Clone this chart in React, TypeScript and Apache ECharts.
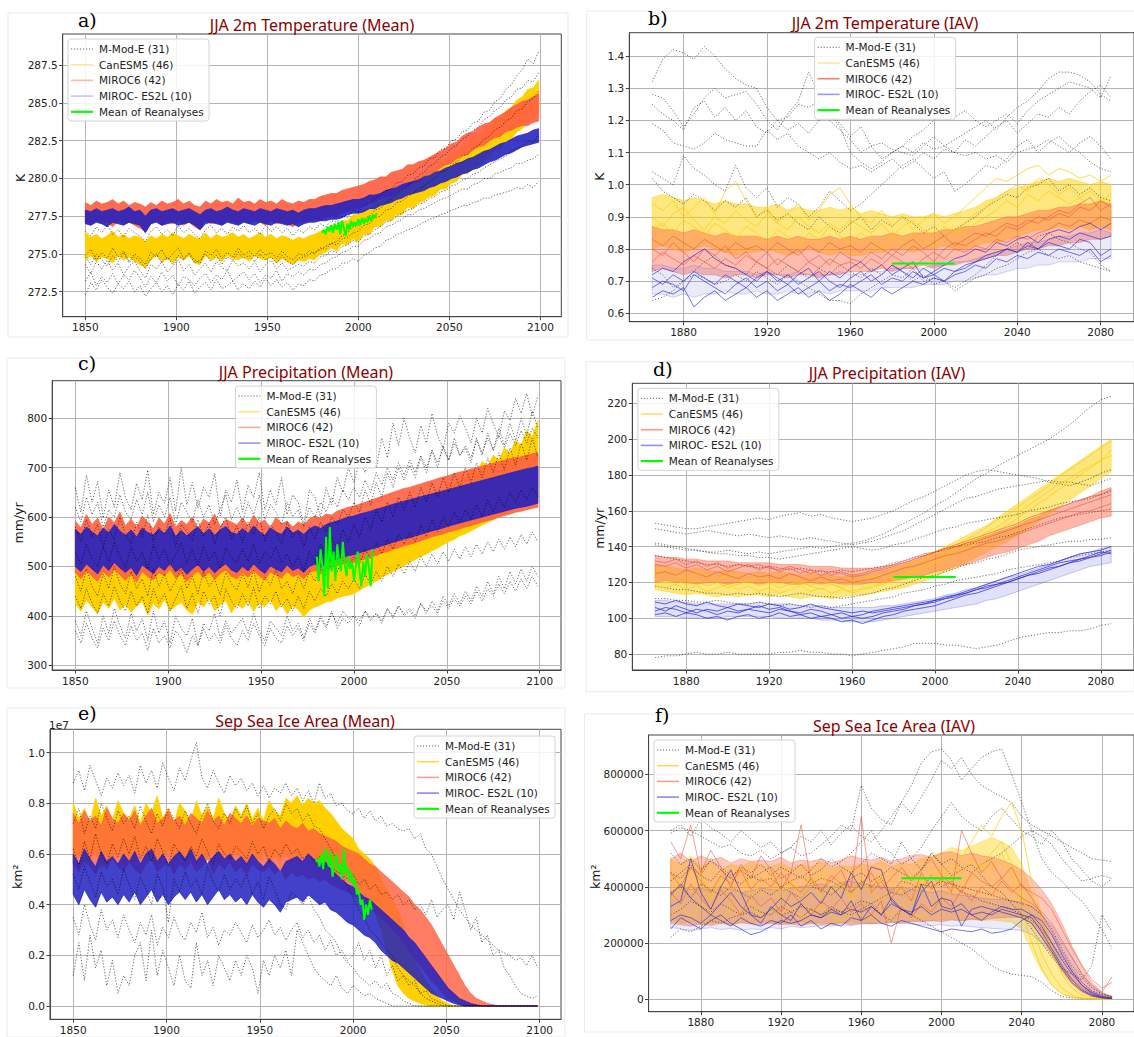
import React, { useEffect, useRef } from 'react';
import * as echarts from 'echarts';

// ---------- names ----------
const MME = 'M-Mod-E (31)';
const CAN = 'CanESM5 (46)';
const MIR = 'MIROC6 (42)';
const ES = 'MIROC- ES2L (10)';
const REAN = 'Mean of Reanalyses';
const legendNames = [MME, CAN, MIR, ES, REAN];

const titles = ['JJA 2m Temperature (Mean)', 'JJA 2m Temperature (IAV)', 'JJA Precipitation (Mean)', 'JJA Precipitation (IAV)', 'Sep Sea Ice Area (Mean)', 'Sep Sea Ice Area (IAV)'];
const letters = ['a)', 'b)', 'c)', 'd)', 'e)', 'f)'];
const yNames = ['K', 'K', 'mm/yr', 'mm/yr', 'km²', 'km²'];

// ---------- ticks ----------
const meanXTicks = [1850, 1900, 1950, 2000, 2050, 2100];
const iavXTicks = [1880, 1920, 1960, 2000, 2040, 2080];
const aYTicks = [272.5, 275, 277.5, 280, 282.5, 285, 287.5];
const bYTicks = [0.6, 0.7, 0.8, 0.9, 1.0, 1.1, 1.2, 1.3, 1.4];
const cYTicks = [300, 400, 500, 600, 700, 800];
const dYTicks = [80, 100, 120, 140, 160, 180, 200, 220];
const eYTicks = [0, 0.2, 0.4, 0.6, 0.8, 1.0];
const fYTicks = [0, 200, 400, 600, 800]; // thousand km²

// ---------- x values ----------
const range = (a: number, b: number, s: number) => { const r: number[] = []; for (let v = a; v <= b; v += s) r.push(v); return r; };
const meanYears = range(1850, 2099, 3); // 84
const iavYears = range(1865, 2085, 5); // 45
const reanYears = range(1980, 2010, 1); // 31
const iavReanYears = [1980, 2010];

// ---------- a) JJA 2m temperature mean (K) ----------
const aCanLo = [274.6,274.9,274.5,274.8,274.7,274.4,274.9,274.6,274.8,274.5,274.3,274.1,274.6,274.9,274.5,274.7,274.4,274.8,274.6,274.9,274.4,274.3,274.9,274.6,274.8,274.5,274.9,274.7,274.6,274.8,274.5,274.9,274.7,274.6,274.8,274.4,274.7,274.5,274.3,274.6,274.5,274.7,274.6,275.0,275.1,275.4,275.2,275.7,275.6,276.0,275.8,276.3,276.3,276.8,276.8,277.2,277.2,277.6,277.6,278.1,278.0,278.4,278.5,278.8,278.9,279.3,279.3,279.7,279.8,280.3,280.3,280.7,280.9,281.2,281.4,281.9,281.9,282.5,282.6,283.1,283.3,283.7,283.9,284.3];
const aCanHi = [276.4,276.1,276.3,276.0,276.2,276.5,276.1,276.3,276.0,276.2,276.1,275.8,276.2,276.0,276.3,276.1,276.4,276.2,276.0,276.3,276.1,276.0,276.4,276.0,276.3,276.1,276.2,276.4,276.1,276.3,276.0,276.2,276.4,276.1,276.3,276.0,276.2,276.1,275.9,276.1,276.0,276.2,276.3,276.5,276.6,276.9,276.9,277.2,277.2,277.6,277.6,278.0,278.0,278.4,278.4,278.8,278.8,279.2,279.3,279.7,279.7,280.1,280.2,280.5,280.6,281.1,281.1,281.5,281.6,282.1,282.2,282.7,282.8,283.3,283.4,284.0,284.0,284.5,284.7,285.2,285.4,285.9,286.0,286.5];
const aMirLo = [277.1,276.9,277.2,277.0,277.1,276.8,277.2,277.0,277.1,276.9,276.7,276.5,277.0,277.2,276.9,277.1,277.0,277.2,276.9,277.1,276.8,276.6,277.2,277.0,277.1,276.9,277.2,277.1,277.0,277.2,277.0,277.2,277.1,276.9,277.2,277.0,277.1,277.0,276.8,277.1,277.1,277.2,277.3,277.2,277.4,277.5,277.5,277.7,277.8,278.0,278.0,278.2,278.4,278.4,278.6,278.8,278.8,279.1,279.3,279.4,279.7,279.8,280.1,280.3,280.4,280.7,280.9,281.0,281.3,281.5,281.6,281.9,282.1,282.2,282.5,282.7,282.8,283.1,283.2,283.4,283.5,283.5,283.7,283.8];
const aMirHi = [278.4,278.2,278.5,278.3,278.4,278.6,278.3,278.5,278.2,278.4,278.3,278.1,278.4,278.2,278.5,278.3,278.4,278.6,278.3,278.5,278.2,278.1,278.5,278.3,278.6,278.4,278.5,278.3,278.7,278.4,278.5,278.3,278.6,278.4,278.5,278.3,278.6,278.4,278.3,278.5,278.4,278.6,278.6,278.8,278.9,279.0,279.0,279.2,279.3,279.4,279.5,279.6,279.8,279.9,280.1,280.1,280.4,280.5,280.6,280.9,280.9,281.1,281.2,281.4,281.6,281.8,282.0,282.3,282.4,282.8,283.0,283.1,283.4,283.6,283.7,284.0,284.2,284.4,284.7,284.9,285.1,285.2,285.4,285.6];
const aEsLo = [277.0,276.9,277.1,277.0,276.8,277.1,277.0,276.9,277.1,277.0,276.9,276.4,277.0,277.1,276.9,277.0,277.1,276.9,277.0,277.1,276.9,276.6,277.0,277.1,277.0,276.9,277.1,277.0,276.9,277.1,277.0,276.9,277.1,277.0,276.9,277.1,277.0,276.9,277.0,276.8,277.0,277.1,277.1,277.2,277.2,277.3,277.3,277.4,277.6,277.7,277.7,277.8,278.0,278.0,278.2,278.3,278.4,278.6,278.7,278.9,279.0,279.1,279.2,279.4,279.5,279.7,279.8,280.0,280.1,280.3,280.4,280.6,280.7,280.9,281.1,281.2,281.4,281.6,281.7,281.9,282.1,282.2,282.3,282.4];
const aEsHi = [277.9,277.8,278.0,277.8,277.9,278.0,277.8,277.9,278.1,277.8,277.9,277.5,277.9,278.0,277.8,277.9,278.0,277.8,277.9,278.0,277.8,277.6,277.9,278.0,277.8,277.9,278.1,277.9,277.8,278.0,277.9,277.8,278.0,277.9,277.8,278.0,277.9,277.8,277.9,277.7,277.9,278.0,278.0,278.1,278.2,278.2,278.3,278.4,278.5,278.6,278.6,278.7,278.9,278.9,279.0,279.2,279.3,279.4,279.6,279.7,279.8,279.9,280.1,280.2,280.4,280.5,280.7,280.8,281.0,281.1,281.3,281.4,281.6,281.8,281.9,282.1,282.3,282.4,282.6,282.8,282.9,283.0,283.2,283.3];
const aK1 = [276.5,276.2,276.8,276.4,276.9,276.3,276.6,276.1,276.7,276.4,276.2,275.8,276.5,276.8,276.3,276.6,276.2,276.9,276.4,276.7,276.3,276.0,276.6,276.9,276.4,276.7,276.3,276.8,276.5,276.9,276.4,276.7,276.3,276.9,276.5,276.8,276.4,276.7,276.2,276.6,276.4,276.8,276.6,277.0,276.8,277.2,277.1,277.5,277.4,277.9,277.8,278.2,278.3,278.7,278.9,279.2,279.3,279.7,279.8,280.2,280.3,280.7,280.8,281.3,281.4,281.9,282.0,282.5,282.6,283.1,283.2,283.7,283.8,284.4,284.5,285.1,285.3,285.9,286.2,286.8,287.2,287.9,287.6,288.4];
const aK2 = [274.9,275.3,274.6,275.1,274.7,275.4,274.8,275.2,274.5,275.0,274.7,274.3,275.1,274.8,275.3,274.6,275.0,275.4,274.7,275.1,274.6,274.4,275.2,274.9,275.3,274.7,275.1,274.8,275.4,274.9,275.2,274.8,275.3,274.9,275.1,274.7,275.2,274.8,274.6,275.0,274.9,275.2,275.0,275.4,275.3,275.7,275.6,276.0,276.1,276.4,276.5,276.9,277.0,277.4,277.5,277.9,278.0,278.4,278.5,278.8,279.0,279.3,279.5,279.8,280.0,280.4,280.5,280.9,281.1,281.5,281.6,282.0,282.2,282.6,282.8,283.2,283.4,283.8,284.0,284.5,284.6,285.1,285.3,285.8];
const aK3 = [274.3,273.7,274.5,274.0,274.6,273.9,274.4,273.6,274.2,274.5,273.9,273.4,274.3,274.0,274.5,273.8,274.2,274.6,273.9,274.3,273.6,274.0,274.4,273.8,274.5,274.1,273.9,274.6,274.2,274.4,274.0,274.5,273.8,274.3,274.6,274.0,274.4,273.9,274.1,274.3,274.2,274.5,274.4,274.8,274.9,275.2,275.1,275.5,275.6,275.9,275.8,276.2,276.3,276.6,276.8,277.1,277.2,277.5,277.7,277.9,278.0,278.3,278.4,278.7,278.8,279.1,279.2,279.5,279.6,279.9,280.0,280.3,280.4,280.7,280.9,281.1,281.3,281.5,281.8,282.0,282.1,282.5,282.4,282.9];
const aK4 = [273.2,273.8,272.9,273.5,273.1,273.7,273.0,273.6,273.3,273.9,273.4,272.8,273.5,273.1,273.8,273.2,273.6,272.9,273.5,273.3,272.9,273.4,273.7,273.1,273.6,273.3,273.9,273.2,273.5,273.8,273.3,273.7,273.1,273.6,273.4,273.9,273.2,273.7,273.5,273.8,273.6,274.0,273.9,274.3,274.4,274.7,274.8,275.1,275.2,275.5,275.5,275.9,276.0,276.3,276.4,276.8,276.9,277.1,277.3,277.6,277.6,277.9,278.0,278.2,278.4,278.6,278.7,278.9,279.1,279.3,279.3,279.6,279.7,280.0,280.0,280.3,280.4,280.6,280.7,281.0,281.0,281.2,281.3,281.6];
const aK5 = [272.3,273.1,272.6,273.3,272.8,272.4,273.0,272.7,273.2,272.5,272.9,272.2,272.7,273.1,272.5,272.9,272.3,273.0,272.6,273.2,272.4,272.8,273.1,272.6,273.3,272.7,272.9,273.2,272.6,273.0,272.7,273.2,272.8,273.4,272.9,273.3,272.8,273.1,272.6,273.0,272.9,273.3,273.2,273.6,273.7,274.0,274.0,274.4,274.4,274.7,274.5,274.9,275.1,275.4,275.5,275.9,276.0,276.3,276.4,276.6,276.7,276.9,277.1,277.3,277.4,277.6,277.7,277.9,278.0,278.2,278.2,278.4,278.5,278.7,278.7,278.9,279.0,279.1,279.2,279.4,279.3,279.6,279.4,279.8];
const aK6 = [274.8,274.3,275.0,274.6,274.2,274.9,274.5,275.1,274.4,274.8,274.5,274.0,274.7,275.0,274.4,274.8,274.3,274.9,274.6,275.0,274.4,274.6,275.0,274.5,274.9,274.3,274.8,274.6,275.1,274.7,274.9,274.5,275.0,274.6,274.8,274.4,274.9,274.5,274.3,274.7,274.8,275.0,275.1,275.3,275.5,275.7,275.8,276.2,276.4,276.8,276.9,277.3,277.5,277.9,278.0,278.4,278.6,279.0,279.2,279.6,279.8,280.2,280.4,280.8,281.0,281.4,281.6,282.0,282.2,282.6,282.8,283.2,283.4,283.9,284.1,284.5,284.7,285.2,285.4,285.9,286.0,286.5,286.4,287.0];
const aRean = [276.4,276.6,276.3,276.8,276.5,276.9,276.4,277.0,276.6,277.1,276.3,277.2,276.7,276.2,277.0,276.6,277.2,276.8,277.1,276.9,277.3,276.9,277.4,277.0,277.3,277.1,277.5,277.2,277.6,277.4,277.7];

// ---------- b) JJA 2m temperature IAV (K) ----------
const bCanLo = [.8,.81,.8,.79,.8,.81,.8,.79,.78,.79,.79,.8,.79,.78,.79,.8,.79,.78,.79,.78,.78,.79,.79,.8,.8,.79,.8,.8,.81,.8,.8,.81,.82,.82,.83,.84,.85,.86,.86,.87,.86,.87,.86,.87,.86];
const bCanHi = [.96,.97,.96,.95,.96,.95,.94,.95,.94,.94,.93,.93,.94,.92,.93,.92,.92,.93,.92,.93,.91,.92,.91,.9,.91,.9,.9,.91,.9,.91,.92,.93,.95,.96,.98,.99,1.0,1.01,1.02,1.01,1.02,1.01,1.0,1.01,1.0];
const bMirLo = [.73,.74,.73,.72,.73,.72,.72,.71,.72,.72,.71,.72,.72,.71,.72,.72,.71,.72,.72,.73,.73,.73,.74,.73,.74,.74,.75,.74,.75,.75,.76,.76,.77,.78,.78,.79,.8,.8,.81,.81,.82,.82,.83,.83,.84];
const bMirHi = [.87,.86,.86,.85,.86,.85,.84,.85,.84,.84,.84,.83,.84,.83,.84,.83,.83,.84,.83,.84,.83,.84,.84,.85,.84,.85,.85,.85,.86,.86,.87,.87,.88,.89,.9,.9,.91,.92,.92,.93,.93,.94,.94,.95,.94];
const bEsLo = [.66,.66,.65,.66,.65,.66,.66,.67,.66,.66,.67,.66,.66,.67,.66,.66,.67,.66,.67,.67,.67,.67,.68,.68,.68,.68,.69,.69,.69,.7,.7,.71,.72,.72,.73,.74,.74,.75,.75,.76,.76,.76,.77,.77,.77];
const bEsHi = [.75,.75,.74,.74,.75,.74,.74,.73,.73,.73,.72,.73,.72,.72,.73,.72,.72,.72,.73,.72,.72,.73,.73,.74,.74,.74,.74,.75,.75,.76,.76,.77,.78,.79,.8,.81,.82,.82,.83,.84,.84,.85,.85,.86,.85];
const bCan1 = [.94,.92,.95,.9,.93,.96,.91,.98,1.01,.95,.9,.93,.88,.91,.94,.89,.92,.97,.99,.94,.9,.88,.92,.87,.9,.86,.89,.91,.88,.9,.93,.96,.99,1.02,1.01,1.03,1.05,1.06,1.03,1.05,1.04,1.02,1.03,1.01,1.03];
const bCan2 = [.86,.88,.85,.89,.87,.84,.88,.86,.83,.87,.85,.82,.86,.84,.81,.85,.83,.87,.84,.82,.85,.83,.8,.84,.82,.85,.83,.81,.84,.86,.85,.88,.9,.92,.95,.93,.97,.95,.98,.96,.94,.96,.93,.95,.94];
const bCan3 = [.9,.87,.91,.93,.89,.86,.9,.88,.92,.89,.87,.91,.88,.86,.9,.87,.85,.88,.86,.89,.87,.85,.88,.84,.87,.89,.86,.84,.87,.85,.88,.91,.93,.96,.98,1.0,.98,1.02,1.0,.97,.99,.96,.98,.95,.97];
const bMir1 = [.8,.78,.82,.79,.76,.8,.78,.81,.77,.79,.76,.79,.75,.78,.8,.76,.78,.75,.79,.77,.76,.79,.77,.8,.78,.81,.79,.76,.8,.82,.81,.83,.85,.84,.87,.86,.88,.9,.89,.91,.9,.93,.92,.95,.93];
const bMir2 = [.76,.79,.77,.75,.78,.76,.74,.77,.75,.78,.76,.74,.77,.75,.73,.76,.74,.77,.75,.76,.74,.77,.75,.78,.76,.74,.77,.79,.77,.8,.79,.81,.8,.83,.82,.84,.83,.85,.86,.88,.87,.89,.88,.9,.89];
const bMir3 = [.83,.81,.84,.82,.8,.83,.81,.79,.82,.8,.81,.79,.82,.8,.78,.81,.79,.82,.8,.81,.79,.82,.8,.78,.81,.83,.8,.82,.84,.81,.83,.85,.84,.86,.88,.87,.89,.88,.9,.92,.91,.94,.96,.92,.94];
const bEs1 = [.72,.74,.73,.76,.78,.8,.77,.75,.74,.72,.7,.73,.71,.69,.72,.74,.7,.73,.71,.74,.76,.73,.75,.72,.74,.76,.71,.73,.75,.77,.78,.8,.79,.82,.81,.83,.84,.82,.85,.86,.85,.87,.88,.86,.88];
const bEs2 = [.68,.7,.69,.67,.72,.7,.68,.66,.69,.71,.68,.7,.67,.69,.66,.68,.7,.67,.69,.68,.7,.72,.69,.71,.7,.73,.71,.72,.74,.73,.75,.76,.78,.79,.8,.79,.81,.8,.82,.81,.8,.83,.82,.78,.8];
const bEs3 = [.65,.67,.66,.68,.62,.65,.67,.64,.66,.68,.65,.67,.64,.66,.68,.65,.67,.64,.66,.69,.67,.65,.68,.66,.68,.7,.69,.71,.7,.72,.73,.75,.74,.77,.76,.78,.77,.79,.78,.8,.79,.78,.8,.76,.78];
const bEs4 = [.71,.69,.72,.7,.73,.71,.69,.72,.7,.68,.71,.73,.7,.72,.69,.71,.73,.7,.68,.71,.73,.7,.72,.75,.73,.71,.74,.72,.7,.73,.74,.76,.77,.78,.8,.79,.82,.8,.83,.84,.83,.85,.84,.83,.84];
const bK1 = [1.32,1.39,1.42,1.41,1.39,1.43,1.4,1.36,1.33,1.31,1.3,1.24,1.2,1.21,1.25,1.24,1.26,1.2,1.17,1.14,1.1,1.12,1.08,1.1,1.12,1.1,1.13,1.11,1.12,1.14,1.16,1.18,1.2,1.17,1.21,1.24,1.26,1.29,1.33,1.35,1.35,1.34,1.32,1.28,1.26];
const bK2 = [1.28,1.27,1.23,1.18,1.22,1.27,1.3,1.27,1.28,1.29,1.25,1.2,1.17,1.22,1.26,1.35,1.28,1.22,1.18,1.1,1.07,1.05,1.07,1.1,1.12,1.15,1.17,1.2,1.22,1.21,1.23,1.2,1.18,1.2,1.22,1.19,1.23,1.26,1.28,1.3,1.32,1.31,1.3,1.27,1.34];
const bK3 = [1.25,1.22,1.2,1.17,1.24,1.26,1.21,1.24,1.2,1.23,1.18,1.16,1.2,1.17,1.19,1.16,1.2,1.23,1.19,1.15,1.18,1.12,1.13,1.11,1.1,1.09,1.12,1.15,1.12,1.1,1.14,1.12,1.15,1.18,1.2,1.16,1.19,1.22,1.21,1.24,1.22,1.26,1.29,1.31,1.27];
const bK4 = [1.19,1.17,1.13,1.12,1.11,1.13,1.16,1.14,1.13,1.12,1.12,1.17,1.14,1.16,1.12,1.1,1.08,1.1,1.07,1.05,1.06,1.04,1.06,1.08,1.05,1.07,1.1,1.08,1.11,1.1,1.09,1.1,1.08,1.09,1.07,1.1,1.11,1.12,1.14,1.12,1.1,1.13,1.15,1.12,1.08];
const bK5 = [1.04,1.02,1.0,1.09,1.05,1.03,1.0,.98,1.06,.99,.96,.99,.93,.96,.94,.9,.93,.98,.95,.92,.94,.97,1.0,1.03,1.06,1.08,1.05,1.02,1.04,.98,1.0,1.03,1.06,1.05,1.08,1.12,1.14,1.1,1.13,1.15,1.12,1.1,1.07,1.05,1.04];
const bK6 = [1.02,.98,.96,.94,.97,.95,.92,.95,.93,.96,.9,.92,.89,.91,.88,.86,.9,.87,.85,.88,.9,.86,.89,.87,.9,.88,.85,.87,.84,.86,.88,.9,.93,.95,.97,.96,.99,1.0,1.02,.98,1.0,.97,.99,.96,.95];
const bK7 = [.64,.65,.67,.7,.72,.71,.69,.7,.72,.7,.73,.71,.69,.72,.7,.68,.66,.64,.64,.63,.66,.68,.7,.72,.71,.74,.7,.71,.7,.67,.69,.71,.72,.74,.75,.77,.79,.8,.78,.77,.78,.76,.75,.74,.73];
const bK8 = [.74,.72,.68,.7,.73,.76,.78,.75,.74,.72,.76,.74,.72,.75,.73,.71,.74,.72,.75,.73,.71,.74,.72,.75,.73,.7,.72,.69,.7,.68,.7,.72,.75,.78,.8,.82,.8,.84,.85,.83,.82,.8,.79,.75,.73];
const bRean = [.755, .755];

// ---------- c) JJA precipitation mean (mm/yr) ----------
const cCanLo = [425,410,432,418,405,428,415,436,412,422,408,420,430,402,425,414,433,410,420,427,412,403,428,418,435,410,422,431,406,424,415,430,409,426,418,433,411,424,404,420,413,398,412,418,422,428,430,436,440,442,445,452,458,465,470,478,484,490,495,502,508,514,520,525,532,537,544,550,555,562,566,572,578,584,590,594,600,606,612,618,622,628,634,640];
const cCanHi = [512,498,525,505,517,495,520,508,530,502,515,500,522,510,496,518,505,527,499,512,507,521,498,516,503,525,511,497,519,508,520,504,515,498,523,509,517,501,512,506,510,515,520,531,528,540,545,550,552,556,560,572,566,583,578,596,590,608,603,620,615,634,628,648,640,660,652,672,664,685,678,698,690,712,704,725,716,740,730,755,745,775,762,795];
const cMirLo = [488,475,492,480,470,490,478,495,483,472,485,468,490,479,473,488,481,494,476,486,470,482,491,477,489,474,486,493,480,475,487,478,492,481,473,489,483,476,490,479,484,475,488,492,485,495,498,502,505,510,508,512,515,520,522,528,530,535,538,542,545,548,552,556,560,563,566,570,573,576,580,583,586,590,593,596,600,603,606,610,612,615,618,620];
const cMirHi = [592,578,605,585,598,575,600,588,610,582,596,580,602,590,576,598,586,607,579,593,585,600,578,596,588,606,581,595,590,584,598,583,604,588,594,578,600,586,592,580,590,585,596,602,598,606,604,612,616,620,622,626,630,634,638,642,646,650,654,658,660,664,667,671,674,678,681,684,688,691,694,697,700,703,706,709,712,715,718,720,722,725,728,730];
const cEsLo = [500,490,505,495,485,503,492,508,497,488,498,482,503,494,486,500,492,506,489,499,484,495,504,490,500,487,498,505,493,488,500,491,505,494,486,501,495,489,503,492,497,488,500,505,498,508,512,515,518,522,524,528,531,535,538,542,545,549,552,556,558,562,565,569,572,575,578,582,585,588,591,594,597,600,603,606,609,612,615,618,620,622,625,628];
const cEsHi = [575,565,580,570,562,578,568,585,572,563,574,560,578,569,564,576,566,582,561,573,562,572,580,566,576,563,574,581,569,565,577,567,582,571,563,578,570,565,580,568,573,565,576,582,577,585,589,592,596,600,602,606,609,612,616,619,622,626,629,632,635,638,641,644,647,650,653,656,659,662,665,668,671,674,677,680,683,686,689,692,695,698,700,703];
const cK1 = [660,610,685,630,672,598,655,620,690,640,615,668,635,695,605,650,628,680,612,700,625,670,618,660,640,688,602,655,630,675,610,665,640,690,615,655,625,680,605,645,630,585,655,640,600,660,625,680,650,700,670,715,690,740,700,760,720,790,745,800,760,730,785,750,810,765,740,790,770,805,780,750,800,770,820,790,760,815,795,840,810,850,805,845];
const cK2 = [580,550,595,560,585,540,575,555,600,565,545,590,560,605,550,580,565,598,540,585,570,552,595,560,588,545,578,600,555,582,548,590,565,600,552,585,570,545,590,560,575,540,580,555,590,570,600,585,615,600,630,610,655,625,670,640,690,660,700,675,705,680,720,690,735,700,745,715,760,725,740,710,760,725,770,735,780,745,790,755,800,765,815,780];
const cK3 = [480,450,495,460,440,485,455,500,465,445,490,455,475,440,495,460,485,450,470,498,455,480,445,490,460,475,442,488,465,452,485,458,492,448,478,462,495,455,470,445,480,455,490,470,495,480,505,490,515,500,520,505,535,515,548,525,555,535,565,545,570,550,585,560,595,570,600,580,610,590,615,595,625,600,635,610,640,620,650,630,655,635,660,640];
const cK4 = [390,360,410,375,345,400,365,415,380,355,405,370,395,350,410,365,390,345,400,375,360,395,340,385,370,405,355,390,365,380,395,365,405,370,350,390,375,360,400,370,385,355,395,370,400,380,410,375,395,385,400,380,410,390,405,385,415,395,420,400,410,395,425,405,430,410,440,420,445,425,450,430,460,440,470,445,480,455,490,465,495,470,500,480];
const cK5 = [370,345,385,355,335,375,350,390,360,340,380,350,365,330,375,345,360,335,370,355,325,360,340,375,350,365,345,380,355,340,370,350,385,360,340,375,355,345,380,360,375,350,385,365,395,375,405,385,410,395,400,390,410,395,405,390,415,400,420,405,415,400,425,410,420,405,430,415,435,420,440,425,450,430,455,440,465,445,470,450,475,455,480,460];
const cK6 = [530,505,545,515,500,540,510,550,520,498,540,510,528,495,545,515,535,500,525,548,505,535,500,542,512,530,495,538,518,508,536,510,545,505,530,515,540,508,525,500,520,490,530,510,545,520,560,535,575,550,585,560,600,575,615,590,630,600,640,615,650,620,660,630,670,640,680,650,690,660,700,670,710,680,720,690,730,695,740,705,750,715,760,720];
const cK7 = [440,415,455,425,405,445,420,460,430,410,450,420,440,405,455,425,445,410,435,460,415,445,405,450,425,440,400,455,430,415,445,420,458,415,440,425,450,418,435,410,440,415,450,430,455,440,465,445,470,455,475,455,485,465,490,470,500,480,505,485,510,490,520,500,525,505,530,510,535,515,540,520,545,525,550,530,555,535,560,540,565,545,570,550];
const cK8 = [620,590,640,605,630,580,615,600,645,610,595,635,605,650,590,625,600,640,585,630,610,590,635,600,625,585,618,645,595,620,590,630,605,645,595,625,610,585,630,600,615,580,620,600,630,610,640,620,655,635,660,640,675,650,690,665,700,675,710,685,715,690,725,700,735,710,740,715,750,725,745,720,755,730,760,735,765,740,770,745,775,750,780,760];
const cRean = [520,470,535,500,440,560,455,580,490,530,470,545,510,490,550,505,480,520,495,510,470,500,530,490,460,510,480,525,500,460,535];

// ---------- d) JJA precipitation IAV (mm/yr) ----------
const dCanLo = [116,115,114,113,114,113,112,113,112,113,113,112,113,112,111,112,112,111,112,113,113,114,115,116,117,119,121,123,126,128,131,134,137,140,143,146,150,154,158,162,166,170,174,178,182];
const dCanHi = [130,129,128,127,128,127,126,127,126,125,126,125,126,125,124,125,124,124,123,124,124,125,126,128,130,132,134,137,140,143,146,149,152,156,160,164,168,172,176,180,184,188,192,196,200];
const dMirLo = [120,121,120,120,119,120,120,119,120,120,119,120,120,119,119,120,119,120,119,119,119,120,120,121,122,123,124,126,127,129,130,132,134,136,137,139,141,143,146,148,150,152,154,156,157];
const dMirHi = [135,134,134,133,133,132,132,132,131,131,131,131,130,130,130,129,129,129,128,128,128,128,129,130,131,133,135,137,139,140,142,144,146,148,150,152,155,157,160,162,164,166,168,171,173];
const dEsLo = [101,101,101,100,100,100,100,101,101,101,101,101,100,100,100,100,99,99,99,98,98,98,99,100,101,102,103,104,105,106,107,108,110,111,113,115,117,119,121,123,125,127,129,130,131];
const dEsHi = [110,110,109,109,108,108,108,108,108,108,109,108,108,108,107,107,107,106,106,106,106,106,107,107,108,109,110,111,113,114,116,117,119,121,123,124,126,128,130,132,134,136,137,139,140];
const dCan1 = [125,127,124,122,125,123,121,124,122,120,123,121,119,122,120,118,121,119,117,120,121,123,124,127,129,131,133,136,138,141,144,147,151,155,158,162,166,170,174,179,183,187,191,195,199];
const dCan2 = [118,117,119,116,118,115,117,119,116,118,115,117,114,116,118,115,117,114,116,115,117,118,120,122,125,127,130,132,135,138,141,144,148,151,155,159,163,167,171,175,178,182,185,188,191];
const dCan3 = [122,120,121,119,121,118,120,117,119,121,118,120,117,119,121,118,116,119,117,114,116,117,119,121,124,126,128,131,134,136,139,142,145,149,152,156,160,164,168,172,176,180,184,188,194];
const dMir1 = [130,129,131,128,130,127,129,126,128,130,127,129,126,128,125,127,124,126,125,123,124,126,127,129,131,133,135,137,139,140,142,143,145,147,149,151,153,155,157,159,161,163,165,167,169];
const dMir2 = [125,126,124,127,125,123,126,124,122,125,123,124,122,125,123,121,123,121,122,120,121,122,124,126,128,129,131,133,135,136,138,140,142,143,145,147,149,151,153,155,157,159,160,162,164];
const dMir3 = [132,131,133,130,132,129,131,128,130,129,130,128,127,129,127,125,127,124,126,124,125,127,128,130,132,134,136,137,139,141,143,145,147,149,151,153,156,158,160,162,164,166,168,169,172];
const dEs1 = [106,104,107,105,103,105,104,106,104,105,107,105,106,104,103,105,104,102,103,101,102,104,105,106,107,108,109,110,112,113,115,117,119,121,123,125,127,129,130,132,134,136,137,138,140];
const dEs2 = [102,103,101,103,102,100,101,99,101,102,100,101,103,101,102,100,101,100,98,99,97,99,101,102,104,105,106,107,109,111,113,114,116,118,120,122,124,125,127,129,131,132,134,135,137];
const dEs3 = [109,108,110,108,107,109,107,106,108,107,106,108,107,105,106,108,106,105,104,103,104,103,104,105,106,107,108,110,111,112,114,116,117,119,120,122,124,126,128,129,131,133,134,136,138];
const dEs4 = [104,106,105,103,105,104,102,104,103,105,104,103,105,104,102,103,101,102,100,101,100,101,103,104,105,107,108,109,111,113,114,116,118,119,121,123,125,127,129,131,132,133,135,137,136];
const dK1 = [142,141,140,139,138,137,137,138,137,136,137,136,137,138,139,140,139,140,141,142,143,145,147,150,153,156,159,163,166,170,174,178,181,185,188,191,194,197,200,204,208,213,218,222,224];
const dK2 = [153,152,151,150,150,151,152,153,154,155,156,155,157,158,159,157,158,156,155,154,155,156,158,160,163,166,168,171,174,177,180,182,183,182,181,180,179,178,176,175,174,176,178,181,183];
const dK3 = [150,149,148,147,148,149,148,147,146,147,146,145,146,145,144,145,144,143,142,141,142,143,145,147,149,152,155,158,161,164,167,168,170,172,173,174,175,176,177,176,176,175,174,176,178];
const dK4 = [141,140,139,138,138,137,136,136,135,135,134,134,133,134,135,136,137,138,139,140,139,138,139,141,142,144,146,148,150,151,153,154,155,156,157,158,160,161,162,164,165,166,167,169,171];
const dK5 = [135,134,133,132,131,130,130,129,130,129,128,129,128,127,128,127,126,126,127,126,127,128,129,131,132,134,135,137,138,140,141,142,143,145,146,148,150,152,154,156,157,158,159,160,161];
const dK6 = [118,117,116,116,115,114,114,113,114,113,114,113,112,113,114,113,112,112,111,112,113,114,116,117,119,121,123,124,126,128,130,131,133,134,136,138,139,140,141,142,143,143,144,144,145];
const dK7 = [111,111,110,110,109,109,110,109,108,108,109,108,107,108,107,106,107,106,107,108,109,110,111,112,114,115,116,118,119,121,122,123,124,125,127,128,129,130,131,132,134,135,136,137,138];
const dK8 = [78,79,79,80,81,80,80,81,80,80,80,80,81,81,82,81,81,80,80,79,80,81,82,83,84,86,86,86,85,85,84,83,84,85,87,89,90,91,92,92,93,93,94,96,97];
const dRean = [123, 123];

// ---------- e) Sep sea ice area mean (1e7 km²) ----------
const eCanLo = [.56,.6,.55,.58,.61,.54,.59,.57,.62,.56,.58,.55,.61,.57,.6,.54,.59,.62,.56,.6,.57,.61,.55,.59,.58,.62,.56,.6,.57,.61,.58,.55,.6,.57,.61,.56,.59,.58,.6,.57,.59,.58,.6,.57,.58,.55,.56,.52,.53,.5,.48,.46,.43,.4,.36,.3,.22,.14,.08,.05,.03,.02,.01,.005,0,0,0,0,0,0,0,0,0,0,0,0,0,0,0,0,0,0,0,0];
const eCanHi = [.8,.74,.78,.72,.82,.75,.79,.73,.81,.76,.74,.79,.72,.8,.76,.83,.74,.78,.72,.8,.77,.73,.81,.75,.79,.74,.82,.76,.73,.79,.75,.8,.74,.78,.73,.81,.77,.75,.82,.8,.83,.79,.82,.8,.81,.78,.76,.73,.7,.68,.66,.62,.6,.58,.55,.5,.46,.42,.38,.32,.25,.19,.14,.1,.07,.04,.02,.01,0,0,0,0,0,0,0,0,0,0,0,0,0,0,0,0];
const eMirLo = [.56,.53,.58,.55,.52,.57,.54,.59,.55,.53,.57,.54,.52,.56,.58,.53,.55,.57,.52,.56,.54,.57,.53,.55,.58,.52,.56,.54,.57,.53,.55,.52,.56,.54,.53,.55,.52,.54,.5,.53,.51,.52,.5,.51,.49,.5,.48,.47,.46,.45,.44,.42,.41,.39,.37,.35,.33,.3,.28,.25,.22,.19,.16,.13,.1,.08,.05,.03,.02,.01,.005,0,0,0,0,0,0,0,0,0,0,0,0,0];
const eMirHi = [.76,.72,.77,.73,.75,.71,.78,.74,.72,.76,.73,.77,.71,.75,.78,.72,.74,.77,.73,.75,.71,.76,.74,.72,.77,.73,.75,.71,.76,.74,.72,.75,.71,.74,.73,.72,.74,.7,.73,.71,.7,.72,.69,.7,.68,.67,.66,.65,.63,.62,.61,.6,.58,.56,.55,.53,.51,.49,.47,.45,.43,.4,.38,.35,.32,.28,.24,.2,.16,.12,.08,.05,.03,.02,.01,.005,0,0,0,0,0,0,0,0];
const eEsLo = [.44,.4,.46,.42,.39,.45,.41,.43,.4,.44,.41,.45,.4,.43,.46,.41,.44,.4,.43,.45,.42,.45,.41,.44,.4,.43,.46,.42,.44,.41,.43,.4,.44,.41,.39,.42,.4,.37,.41,.42,.43,.41,.44,.42,.4,.41,.38,.37,.35,.33,.32,.3,.28,.27,.25,.22,.2,.18,.17,.15,.13,.11,.09,.07,.05,.04,.03,.02,.01,.005,0,0,0,0,0,0,0,0,0,0,0,0,0,0];
const eEsHi = [.6,.56,.62,.58,.55,.61,.57,.59,.56,.6,.57,.61,.56,.6,.62,.57,.6,.56,.59,.61,.58,.62,.57,.6,.56,.59,.61,.58,.6,.57,.59,.56,.6,.57,.55,.58,.56,.53,.57,.58,.59,.57,.6,.58,.56,.57,.54,.52,.5,.48,.47,.45,.43,.42,.4,.38,.36,.34,.32,.3,.27,.25,.22,.19,.16,.13,.1,.07,.05,.03,.02,.01,.005,0,0,0,0,0,0,0,0,0,0,0];
const eK1 = [.88,.93,.85,.95,.89,.83,.9,.86,.92,.87,.91,.84,.95,.88,.93,.86,.96,.9,.85,.94,.89,.97,1.04,.9,.86,.93,.88,.84,.91,.87,.9,.85,.88,.83,.87,.82,.86,.84,.88,.83,.86,.81,.85,.8,.88,.82,.84,.79,.8,.77,.76,.78,.74,.77,.73,.75,.71,.72,.7,.69,.7,.66,.68,.62,.6,.55,.5,.46,.42,.38,.35,.32,.3,.28,.26,.24,.22,.21,.2,.18,.19,.16,.2,.15];
const eK2 = [.72,.78,.68,.75,.7,.8,.74,.69,.77,.72,.75,.7,.79,.73,.68,.76,.71,.78,.74,.7,.77,.72,.68,.75,.8,.73,.7,.76,.72,.78,.74,.79,.72,.76,.7,.75,.78,.73,.8,.76,.78,.73,.76,.71,.7,.66,.62,.58,.52,.47,.43,.38,.35,.3,.28,.25,.22,.2,.15,.12,.1,.08,.05,.03,.02,.01,0,0,0,0,0,0,0,0,0,0,0,0,0,0,0,0,0,0];
const eK3 = [.52,.46,.55,.49,.43,.53,.47,.5,.44,.54,.48,.42,.51,.46,.4,.52,.47,.33,.5,.45,.53,.47,.5,.44,.55,.49,.45,.52,.46,.5,.47,.52,.44,.49,.42,.51,.46,.4,.38,.45,.43,.4,.44,.38,.35,.3,.28,.25,.2,.17,.15,.12,.1,.08,.1,.07,.09,.05,.04,.02,.01,0,0,0,0,0,0,0,0,0,0,0,0,0,0,0,0,0,0,0,0,0,0,0];
const eK4 = [.12,.25,.1,.28,.15,.22,.08,.18,.05,.12,.08,.2,.25,.1,.3,.12,.22,.15,.08,.2,.1,.07,.25,.12,.18,.08,.2,.15,.1,.18,.12,.2,.15,.05,.18,.12,.2,.15,.22,.12,.3,.25,.2,.15,.12,.1,.08,.12,.07,.05,.08,.06,.04,.05,.03,.02,.01,0,0,0,0,0,0,0,0,0,0,0,0,0,0,0,0,0,0,0,0,0,0,0,0,0,0,0];
const eK5 = [.62,.55,.65,.58,.68,.6,.56,.64,.59,.66,.6,.67,.58,.63,.57,.66,.61,.55,.64,.6,.57,.63,.59,.66,.61,.56,.64,.6,.58,.63,.61,.58,.65,.6,.63,.57,.62,.59,.64,.6,.62,.58,.6,.57,.59,.55,.56,.53,.52,.5,.52,.48,.5,.46,.48,.44,.45,.42,.44,.4,.42,.38,.4,.36,.42,.35,.38,.4,.34,.45,.38,.3,.35,.25,.28,.2,.22,.15,.12,.08,.05,.04,.03,.04];
const eK6 = [.35,.28,.4,.32,.26,.38,.3,.34,.27,.36,.3,.25,.33,.28,.36,.24,.31,.27,.35,.29,.26,.33,.29,.37,.27,.31,.24,.3,.28,.33,.29,.25,.32,.27,.3,.34,.28,.31,.26,.3,.33,.27,.3,.25,.28,.22,.26,.2,.22,.18,.2,.25,.18,.22,.15,.2,.12,.16,.1,.12,.08,.1,.05,.06,.03,.02,.01,0,0,0,0,0,0,0,0,0,0,0,0,0,0,0,0,0];
const eRean = [.57,.58,.55,.6,.54,.62,.6,.55,.61,.51,.57,.6,.53,.56,.5,.62,.52,.55,.49,.53,.48,.5,.44,.46,.4,.42,.34,.4,.36,.42,.38];

// ---------- f) Sep sea ice area IAV (thousand km²) ----------
const fCanLo = [280,270,275,265,270,275,268,272,270,275,270,272,268,275,270,272,268,270,275,272,270,275,272,278,275,280,278,282,285,280,285,280,282,278,275,250,170,100,50,20,8,3,1,0,0];
const fCanHi = [500,480,510,470,490,460,480,470,490,475,470,485,465,480,470,490,465,475,470,480,475,490,470,485,480,500,510,520,540,530,545,560,575,560,540,480,380,300,200,130,80,45,20,8,3];
const fMirLo = [270,265,260,268,262,270,265,272,268,265,270,265,268,262,270,266,268,272,265,270,268,272,275,270,278,275,280,276,282,278,285,282,288,290,292,290,270,220,160,100,55,25,10,3,1];
const fMirHi = [500,520,490,510,495,505,485,500,490,495,490,505,485,495,490,500,485,495,510,500,495,505,490,500,510,515,505,520,525,510,520,510,505,495,480,460,430,390,340,270,190,120,60,25,10];
const fEsLo = [255,250,245,250,255,248,252,245,250,248,255,250,260,255,258,262,260,265,262,268,270,268,272,270,268,265,262,265,260,262,258,255,252,250,248,245,230,200,160,110,70,40,18,8,5];
const fEsHi = [380,400,390,395,385,400,390,380,385,395,390,385,395,400,405,410,400,415,420,410,405,400,395,400,390,385,380,385,375,370,365,360,355,355,350,345,330,300,260,200,150,90,45,20,10];
const fCan1 = [350,420,380,450,360,410,340,390,430,370,400,350,420,380,440,360,390,420,350,410,380,440,360,400,350,430,390,470,420,500,560,620,580,650,700,600,420,300,180,90,40,15,5,2,1];
const fCan2 = [420,380,460,400,350,430,390,470,360,410,440,380,420,360,400,450,380,410,370,430,390,350,410,380,440,400,460,420,480,450,500,470,520,560,480,380,260,160,90,40,15,5,2,1,0];
const fCan3 = [300,330,290,340,310,280,330,300,350,290,320,300,340,290,310,330,300,280,320,300,290,320,300,340,310,290,330,350,380,410,440,480,460,520,440,320,200,110,50,20,8,3,1,0,0];
const fMir1 = [560,500,620,450,530,470,400,480,430,510,460,390,450,620,420,380,440,410,400,650,380,420,360,400,350,450,390,430,380,600,520,450,490,430,470,400,380,360,320,250,180,120,70,40,60];
const fMir2 = [380,340,410,360,320,390,350,300,370,330,360,310,380,340,300,350,320,360,310,340,300,350,200,330,290,340,310,360,330,390,350,400,370,420,380,410,360,300,240,170,110,60,30,15,8];
const fMir3 = [450,400,470,420,380,440,410,460,390,430,400,450,410,380,430,390,420,460,380,410,450,390,430,470,420,460,500,440,410,380,450,420,400,430,390,360,340,310,270,210,150,90,50,25,80];
const fEs1 = [370,410,360,330,300,340,380,330,300,290,320,360,330,350,380,340,400,360,450,390,470,460,350,320,300,380,420,330,320,340,300,280,310,330,320,320,300,280,230,160,100,50,20,8,3];
const fEs2 = [330,350,500,380,320,400,460,380,300,270,330,300,280,340,300,290,320,300,350,280,330,300,360,320,300,410,330,360,350,260,320,330,320,310,300,290,270,220,170,110,60,30,12,5,2];
const fEs3 = [280,300,290,270,300,280,260,290,270,260,280,270,300,260,280,250,270,260,290,280,300,270,260,280,270,260,250,240,250,245,240,250,235,240,250,280,300,260,200,140,90,50,25,10,5];
const fEs4 = [250,290,270,250,280,300,270,250,230,240,260,280,270,280,300,290,310,300,320,310,330,300,340,320,310,330,300,320,310,320,300,310,300,320,310,300,290,240,180,120,70,35,15,6,3];
const fK1 = [600,620,580,640,610,590,560,600,570,540,560,520,540,580,560,600,550,590,620,580,560,600,650,700,760,840,880,890,850,780,820,860,880,890,800,700,600,500,450,420,380,350,300,250,180];
const fK2 = [590,610,600,580,560,540,550,520,510,530,500,520,540,510,520,550,580,620,600,760,680,640,620,700,660,720,780,850,820,860,800,760,740,720,700,650,620,600,580,560,540,520,500,495,490];
const fK3 = [420,450,480,440,500,460,430,470,450,480,440,470,450,430,460,500,470,490,520,560,600,540,520,480,500,540,600,650,700,650,620,600,650,680,640,600,580,550,600,560,500,460,420,400,430];
const fK4 = [380,400,360,410,390,370,400,380,360,390,370,400,380,360,400,390,370,400,380,420,400,430,380,420,410,390,440,400,420,380,370,350,340,330,320,300,280,250,200,150,100,60,30,15,10];
const fK5 = [300,320,350,330,310,340,320,300,330,310,300,330,310,290,320,300,330,310,300,320,340,300,280,320,300,280,260,240,220,200,180,150,120,100,90,85,80,60,30,10,5,3,2,1,0];
const fK6 = [220,250,240,260,280,270,290,300,310,290,320,300,310,330,320,300,320,310,330,350,340,360,380,370,390,410,400,420,410,400,390,380,370,360,350,340,330,300,250,180,120,80,40,20,10];
const fK7 = [520,480,500,460,490,470,440,460,430,450,470,430,450,480,440,460,500,470,450,480,520,500,480,560,500,460,520,480,440,460,480,440,400,380,340,300,250,200,150,110,90,70,120,300,240];
const fK8 = [450,430,470,440,420,460,430,410,440,420,430,400,420,440,410,430,420,400,430,450,420,440,470,450,430,460,520,480,500,470,450,480,500,520,550,580,600,580,550,500,460,420,430,440,430];
const fRean = [430, 430];

// ---------- styling / helpers ----------
const FONT = "'DejaVu Sans', sans-serif";
const YEL = '#ffd000';
const RED = '#ff6040';
const BLU = '#2020c0';
const toPairs = (xs: number[], ys: number[]) => ys.slice(0, xs.length).map((v, i) => [xs[i], v]);
const rgba = (hex: string, a: number) => {
  const n = parseInt(hex.slice(1), 16);
  return `rgba(${(n >> 16) & 255},${(n >> 8) & 255},${n & 255},${a})`;
};

function dotted(p: number, xs: number[], ys: number[], op = 0.6) {
  return { type: 'line', name: MME, xAxisIndex: p, yAxisIndex: p, data: toPairs(xs, ys), symbol: 'none', silent: true,
    lineStyle: { color: '#000', opacity: op, width: 1, type: [1.2, 1.8] } };
}
function member(p: number, xs: number[], ys: number[], name: string, color: string, op: number, width = 1) {
  return { type: 'line', name, xAxisIndex: p, yAxisIndex: p, data: toPairs(xs, ys), symbol: 'none', silent: true,
    lineStyle: { color, opacity: op, width } };
}
// ensemble spread drawn as a filled polygon between the lower and upper member envelopes
function band(p: number, xs: number[], lo: number[], hi: number[], name: string, color: string, areaOp: number, edgeOp: number) {
  const n = Math.min(xs.length, lo.length, hi.length);
  return {
    type: 'custom', name, xAxisIndex: p, yAxisIndex: p, silent: true, clip: true,
    data: [[xs[0], lo[0]]], encode: { x: 0, y: 1 },
    renderItem: (_params: any, api: any) => {
      const pts: number[][] = [];
      for (let i = 0; i < n; i++) pts.push(api.coord([xs[i], hi[i]]));
      for (let i = n - 1; i >= 0; i--) pts.push(api.coord([xs[i], lo[i]]));
      return { type: 'polygon', shape: { points: pts }, style: { fill: rgba(color, areaOp), stroke: rgba(color, edgeOp), lineWidth: 0.8 } };
    },
  };
}
function green(p: number, xs: number[], ys: number[]) {
  return { type: 'line', name: REAN, xAxisIndex: p, yAxisIndex: p, data: toPairs(xs, ys), symbol: 'none', silent: true,
    lineStyle: { color: '#00ff00', width: 2 } };
}

const grids = [
  { left: 62.7, top: 34, width: 498.6, height: 282.7 },
  { left: 629.3, top: 32.7, width: 509.4, height: 289 },
  { left: 52.2, top: 380.7, width: 508.8, height: 289.3 },
  { left: 632.3, top: 383.3, width: 512, height: 286.7 },
  { left: 50, top: 729.3, width: 511, height: 290 },
  { left: 648.6, top: 735, width: 493.6, height: 276.7 },
];

function axisBase(p: number, min: number, max: number, ticks: number[], fmt: (v: number) => string) {
  return { type: 'value', gridIndex: p, min, max,
    axisLine: { show: true, onZero: false, lineStyle: { color: '#444' } },
    axisTick: { show: true, length: 3.5, customValues: ticks, lineStyle: { color: '#444' } },
    axisLabel: { margin: 5, customValues: ticks, fontFamily: FONT, fontSize: 10.5, color: '#222', formatter: (v: number) => fmt(v) },
    splitLine: { show: true, lineStyle: { color: '#b4b4b4', width: 1 } } };
}

const legendPos = [[68, 39], [814.6, 37.3], [235.4, 386], [637.8, 388.3], [414, 736], [654, 740]];
const legendColors = [
  ['#fde79a', '#fbb9ad', '#c4c4f4'],
  ['#fde79a', '#f8806a', '#9a9af0'],
  ['#ffe680', '#fba898', '#9898e8'],
  ['#fde070', '#f89888', '#9090ec'],
  ['#ffd84a', '#f9a090', '#8a8ae8'],
  ['#fdd860', '#f9a090', '#8a8ae8'],
];

function buildSeries() {
  const s: any[] = [];
  // a
  [aK1, aK2, aK3, aK4, aK5, aK6].forEach((k) => s.push(dotted(0, meanYears, k)));
  s.push(band(0, meanYears, aCanLo, aCanHi, CAN, YEL, 1, 1));
  s.push(band(0, meanYears, aMirLo, aMirHi, MIR, RED, 0.92, 0.95));
  s.push(band(0, meanYears, aEsLo, aEsHi, ES, BLU, 0.88, 0.95));
  s.push(green(0, reanYears, aRean));
  // b
  [bK1, bK2, bK3, bK4, bK5, bK6, bK7, bK8].forEach((k) => s.push(dotted(1, iavYears, k, 0.55)));
  s.push(band(1, iavYears, bCanLo, bCanHi, CAN, YEL, 0.5, 0.6));
  [bCan1, bCan2, bCan3].forEach((k) => s.push(member(1, iavYears, k, CAN, '#ffcc00', 0.7)));
  s.push(band(1, iavYears, bMirLo, bMirHi, MIR, RED, 0.42, 0.5));
  [bMir1, bMir2, bMir3].forEach((k) => s.push(member(1, iavYears, k, MIR, '#f0503a', 0.6)));
  s.push(band(1, iavYears, bEsLo, bEsHi, ES, '#6a6ae0', 0.14, 0.35));
  [bEs1, bEs2, bEs3, bEs4].forEach((k) => s.push(member(1, iavYears, k, ES, '#2a2ad8', 0.65)));
  s.push(green(1, iavReanYears, bRean));
  // c
  [cK1, cK2, cK3, cK4, cK5, cK6, cK7, cK8].forEach((k) => s.push(dotted(2, meanYears, k)));
  s.push(band(2, meanYears, cCanLo, cCanHi, CAN, YEL, 1, 1));
  s.push(band(2, meanYears, cMirLo, cMirHi, MIR, RED, 0.9, 0.95));
  s.push(band(2, meanYears, cEsLo, cEsHi, ES, BLU, 0.88, 0.95));
  s.push(green(2, reanYears, cRean));
  // d
  [dK1, dK2, dK3, dK4, dK5, dK6, dK7, dK8].forEach((k) => s.push(dotted(3, iavYears, k, 0.55)));
  s.push(band(3, iavYears, dCanLo, dCanHi, CAN, YEL, 0.5, 0.6));
  [dCan1, dCan2, dCan3].forEach((k) => s.push(member(3, iavYears, k, CAN, '#ffcc00', 0.7)));
  s.push(band(3, iavYears, dMirLo, dMirHi, MIR, RED, 0.45, 0.5));
  [dMir1, dMir2, dMir3].forEach((k) => s.push(member(3, iavYears, k, MIR, '#f0503a', 0.6)));
  s.push(band(3, iavYears, dEsLo, dEsHi, ES, '#5a5ae0', 0.18, 0.4));
  [dEs1, dEs2, dEs3, dEs4].forEach((k) => s.push(member(3, iavYears, k, ES, '#2222d0', 0.7)));
  s.push(green(3, iavReanYears, dRean));
  // e
  [eK1, eK2, eK3, eK4, eK5, eK6].forEach((k) => s.push(dotted(4, meanYears, k)));
  s.push(band(4, meanYears, eCanLo, eCanHi, CAN, YEL, 1, 1));
  s.push(band(4, meanYears, eMirLo, eMirHi, MIR, RED, 0.82, 0.9));
  s.push(band(4, meanYears, eEsLo, eEsHi, ES, BLU, 0.85, 0.95));
  s.push(green(4, reanYears, eRean));
  // f
  [fK1, fK2, fK3, fK4, fK5, fK6, fK7, fK8].forEach((k) => s.push(dotted(5, iavYears, k, 0.55)));
  s.push(band(5, iavYears, fCanLo, fCanHi, CAN, YEL, 0.4, 0.5));
  [fCan1, fCan2, fCan3].forEach((k) => s.push(member(5, iavYears, k, CAN, '#ffcc00', 0.7)));
  s.push(band(5, iavYears, fMirLo, fMirHi, MIR, RED, 0.35, 0.45));
  [fMir1, fMir2, fMir3].forEach((k) => s.push(member(5, iavYears, k, MIR, '#f0503a', 0.55)));
  s.push(band(5, iavYears, fEsLo, fEsHi, ES, '#5a5ae0', 0.12, 0.35));
  [fEs1, fEs2, fEs3, fEs4].forEach((k) => s.push(member(5, iavYears, k, ES, '#2a2ad0', 0.65)));
  s.push(green(5, iavReanYears, fRean));
  return s;
}

const panelBoxes = [[8, 13, 560, 324], [586.7, 11, 548, 329], [7, 358, 558, 330], [586, 361.7, 548, 330], [7, 708, 558, 329], [584.5, 714, 550, 318]];
const titlePos = [[312, 25], [885, 23.3], [306, 371.7], [887, 373], [305, 720.7], [894, 725.7]];
const letterPos = [[78, 19.5], [648, 18], [78, 363], [653, 369], [78, 713], [655, 715]];
const yNamePos = [[20, 178], [599, 176.7], [18, 523], [599, 528.3], [17.5, 876.7], [595, 876.7]];

function txt(x: number, y: number, text: string, font: string, fill: string, align: string, rotation = 0, z = 20) {
  return { type: 'text', x, y, rotation, silent: true, z,
    style: { text, font, fill, align, verticalAlign: 'middle', textAlign: align, textVerticalAlign: 'middle' } };
}

function legendGraphic(p: number) {
  const [lx, ly] = legendPos[p];
  const [c1, c2, c3] = legendColors[p];
  const els: any[] = [];
  els.push({ type: 'rect', silent: true, z: 50, shape: { x: lx, y: ly, width: 141, height: 82, r: 3 },
    style: { fill: 'rgba(255,255,255,0.85)', stroke: '#d4d4d4', lineWidth: 1 } });
  const handles = [
    { stroke: 'rgba(0,0,0,0.6)', lineWidth: 1, lineDash: [1.2, 1.8] },
    { stroke: c1, lineWidth: 1.6 },
    { stroke: c2, lineWidth: 1.6 },
    { stroke: c3, lineWidth: 1.6 },
    { stroke: '#00ff00', lineWidth: 2.2 },
  ];
  legendNames.forEach((name, i) => {
    const cy = ly + 10 + i * 15.7;
    els.push({ type: 'line', silent: true, z: 51, shape: { x1: lx + 3, y1: cy, x2: lx + 25, y2: cy }, style: { ...handles[i] } });
    els.push(txt(lx + 31, cy, name, `10.5px ${FONT}`, '#222', 'left', 0, 51));
  });
  return els;
}

function buildGraphic() {
  const els: any[] = [];
  panelBoxes.forEach(([x, y, w, h]) => els.push({ type: 'rect', silent: true, z: -10, shape: { x, y, width: w, height: h }, style: { fill: 'none', stroke: '#ebebeb', lineWidth: 1 } }));
  titles.forEach((t, i) => els.push(txt(titlePos[i][0], titlePos[i][1], t, "16px 'Noto Sans', sans-serif", '#8b0000', 'center')));
  letters.forEach((t, i) => els.push(txt(letterPos[i][0], letterPos[i][1], t, "19px 'DejaVu Serif', serif", '#000', 'left')));
  yNames.forEach((t, i) => els.push(txt(yNamePos[i][0], yNamePos[i][1], t, `12.5px ${FONT}`, '#111', 'center', Math.PI / 2)));
  els.push(txt(49, 725, '1e7', `10.5px ${FONT}`, '#222', 'left'));
  [0, 1, 2, 3, 4, 5].forEach((p) => els.push(...legendGraphic(p)));
  return els;
}

function buildOption() {
  return {
    animation: false,
    backgroundColor: '#ffffff',
    grid: grids.map((g) => ({ ...g, show: true, borderColor: '#444', borderWidth: 1, backgroundColor: 'transparent' })),
    xAxis: [
      axisBase(0, 1837.55, 2111.45, meanXTicks, String), axisBase(1, 1854, 2096, iavXTicks, String),
      axisBase(2, 1837.55, 2111.45, meanXTicks, String), axisBase(3, 1854, 2096, iavXTicks, String),
      axisBase(4, 1837.55, 2111.45, meanXTicks, String), axisBase(5, 1854, 2096, iavXTicks, String),
    ],
    yAxis: [
      axisBase(0, 270.84, 289.57, aYTicks, (v) => v.toFixed(1)),
      axisBase(1, 0.574, 1.4725, bYTicks, (v) => v.toFixed(1)),
      axisBase(2, 290.5, 876, cYTicks, (v) => String(Math.round(v))),
      axisBase(3, 71.1, 231.2, dYTicks, (v) => String(Math.round(v))),
      axisBase(4, -0.0525, 1.092, eYTicks, (v) => v.toFixed(1)),
      axisBase(5, -44.1, 939.7, fYTicks, (v) => String(Math.round(v * 1000))),
    ],
    graphic: { elements: buildGraphic() },
    series: buildSeries(),
  };
}

export default function App() {
  const ref = useRef<HTMLDivElement>(null);
  useEffect(() => {
    if (!ref.current) return;
    const chart = echarts.init(ref.current, undefined, { renderer: 'svg', width: 1134, height: 1037 });
    chart.setOption(buildOption() as any);
    return () => chart.dispose();
  }, []);
  return <div ref={ref} style={{ position: 'absolute', left: 0, top: 0, width: 1134, height: 1037, background: '#fff' }} />;
}
